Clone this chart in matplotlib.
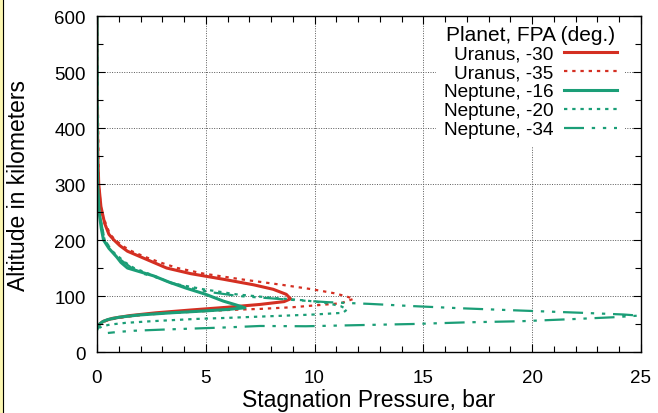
import matplotlib
matplotlib.use('Agg')
import matplotlib.pyplot as plt
from matplotlib.ticker import MultipleLocator
from matplotlib.patches import Rectangle
from matplotlib.lines import Line2D

plt.rcParams['font.family'] = ['Liberation Sans', 'DejaVu Sans']

# Uranus, FPA -30 (red solid)
ur30_alt = [600, 450, 350, 300, 260, 230, 210, 200, 190, 180, 170, 160, 150, 140, 130, 120, 112, 103, 95, 90, 85, 80, 75, 70, 65, 60, 55, 50, 46]
ur30_p = [0, 0.01, 0.04, 0.08, 0.18, 0.35, 0.55, 0.78, 1.05, 1.4, 2.0, 2.6, 3.2, 4.3, 5.8, 7.2, 8.1, 8.7, 8.9, 8.6, 7.5, 6.0, 4.3, 2.7, 1.5, 0.7, 0.3, 0.12, 0.05]

# Uranus, FPA -35 (red dotted)
ur35_alt = [600, 300, 250, 210, 200, 190, 180, 170, 160, 150, 140, 130, 120, 112, 105, 100, 95, 87, 80, 77, 75, 72, 69, 65, 61, 57, 52, 48]
ur35_p = [0, 0.08, 0.2, 0.6, 0.85, 1.15, 1.6, 2.2, 2.9, 3.7, 4.9, 6.6, 8.5, 9.9, 10.9, 11.4, 11.8, 11.2, 9.0, 7.5, 6.0, 4.5, 3.0, 1.8, 1.0, 0.5, 0.2, 0.08]

# Neptune, FPA -16 (green solid)
ne16_alt = [600, 400, 300, 260, 240, 220, 200, 185, 170, 160, 150, 136, 125, 114, 103, 91, 84, 79, 76, 73, 70, 66, 62, 58, 54, 50, 46, 42]
ne16_p = [0, 0.005, 0.03, 0.08, 0.13, 0.2, 0.3, 0.55, 0.9, 1.1, 1.4, 2.6, 3.3, 4.1, 5.0, 5.8, 6.4, 6.8, 6.0, 4.8, 3.4, 1.9, 1.0, 0.5, 0.25, 0.12, 0.06, 0.02]

# Neptune, FPA -20 (green dotted)
ne20_alt = [600, 300, 250, 200, 180, 160, 150, 135, 123, 112, 103, 97, 92, 87, 82, 76, 70, 67, 64, 61, 59, 55, 52, 49, 46, 43]
ne20_p = [0, 0.03, 0.1, 0.35, 0.7, 1.3, 1.7, 2.7, 3.4, 4.9, 6.4, 8.0, 9.6, 10.6, 11.2, 11.5, 11.3, 10.0, 8.0, 6.0, 4.5, 2.5, 1.3, 0.6, 0.25, 0.1]

# Neptune, FPA -34 (green dash-dot-dot)
ne34_alt = [600, 300, 250, 200, 170, 150, 140, 135, 125, 115, 107, 100, 97, 93, 89, 86, 82, 78, 74, 70, 67, 65, 62, 59, 55, 53, 50, 48, 46, 46.5, 44, 42, 40, 38, 36, 34]
ne34_p = [0, 0.03, 0.1, 0.35, 0.9, 1.6, 2.1, 2.6, 3.3, 4.2, 5.2, 6.5, 7.6, 9.0, 10.6, 12.5, 14.5, 16.8, 19.5, 22.3, 24.2, 24.9, 23.7, 22.0, 19.5, 17.0, 14.5, 12.0, 9.6, 7.5, 6.0, 4.5, 3.0, 1.7, 1.0, 0.5]

red = '#d42f22'
green = '#1b9e77'

fig = plt.figure(figsize=(6.58, 4.14), dpi=100)
ax = fig.add_axes([0.1474, 0.1473, 0.8266, 0.8116])
ax.set_axisbelow(False)  # ticks above the legend box, grid drawn by hand below it

for gx in [5, 10, 15, 20]:
    ax.axvline(gx, color='0.35', lw=0.7, linestyle=(0, (1, 1.5)), zorder=1)
for gy in [100, 200, 300, 400, 500]:
    ax.axhline(gy, color='0.35', lw=0.7, linestyle=(0, (1, 1.5)), zorder=1)

ax.plot(ur30_p, ur30_alt, color=red, lw=2.2, label='Uranus, -30', zorder=2)
ax.plot(ur35_p, ur35_alt, color=red, lw=1.6, linestyle=(0, (1.5, 2.2)), label='Uranus, -35', zorder=2)
ax.plot(ne16_p, ne16_alt, color=green, lw=2.2, label='Neptune, -16', zorder=2)
ax.plot(ne20_p, ne20_alt, color=green, lw=1.6, linestyle=(0, (1.5, 2.2)), label='Neptune, -20', zorder=2)
ax.plot(ne34_p, ne34_alt, color=green, lw=1.6, linestyle=(0, (9, 3.5, 1.5, 3.5, 1.5, 3.5)), label='Neptune, -34', zorder=2)

ax.set_xlim(0, 25)
ax.set_ylim(0, 600)
ax.xaxis.set_major_locator(MultipleLocator(5))
ax.xaxis.set_minor_locator(MultipleLocator(1))
ax.yaxis.set_major_locator(MultipleLocator(100))
ax.yaxis.set_minor_locator(MultipleLocator(50))
ax.tick_params(which='both', direction='in', top=True, right=True, labelsize=13.5, width=0.8)
ax.tick_params(which='major', length=6)
ax.tick_params(which='minor', length=4)
ax.tick_params(axis='x', which='major', pad=12)
ax.tick_params(axis='y', which='major', pad=8)
for s in ax.spines.values():
    s.set_linewidth(1.0)

ax.set_xlabel('Stagnation Pressure, bar', fontsize=16.5)
ax.set_ylabel('Altitude in kilometers', fontsize=16.5)
ax.xaxis.set_label_coords(0.5, -0.107)
ax.yaxis.set_label_coords(-0.124, 0.5)

leg = ax.legend(title='Planet, FPA (deg.)', loc='upper right', bbox_to_anchor=(0.970, 0.996),
                markerfirst=False, fontsize=13.7, title_fontsize=15, frameon=True, fancybox=False,
                framealpha=1, facecolor='white', edgecolor='none', borderaxespad=0,
                labelspacing=0.08, handlelength=2.8, handletextpad=0.55,
                borderpad=0.4, alignment='center')
leg.set_zorder(1.5)

# thin border at the left edge of the picture
fig.patches.append(Rectangle((0, 0), 0.0045, 1, transform=fig.transFigure, color='#fbf6b0'))
fig.lines.append(Line2D([0.0045, 0.0045], [0, 1], transform=fig.transFigure, color='black', lw=0.8))

fig.savefig('out.png', dpi=100)
